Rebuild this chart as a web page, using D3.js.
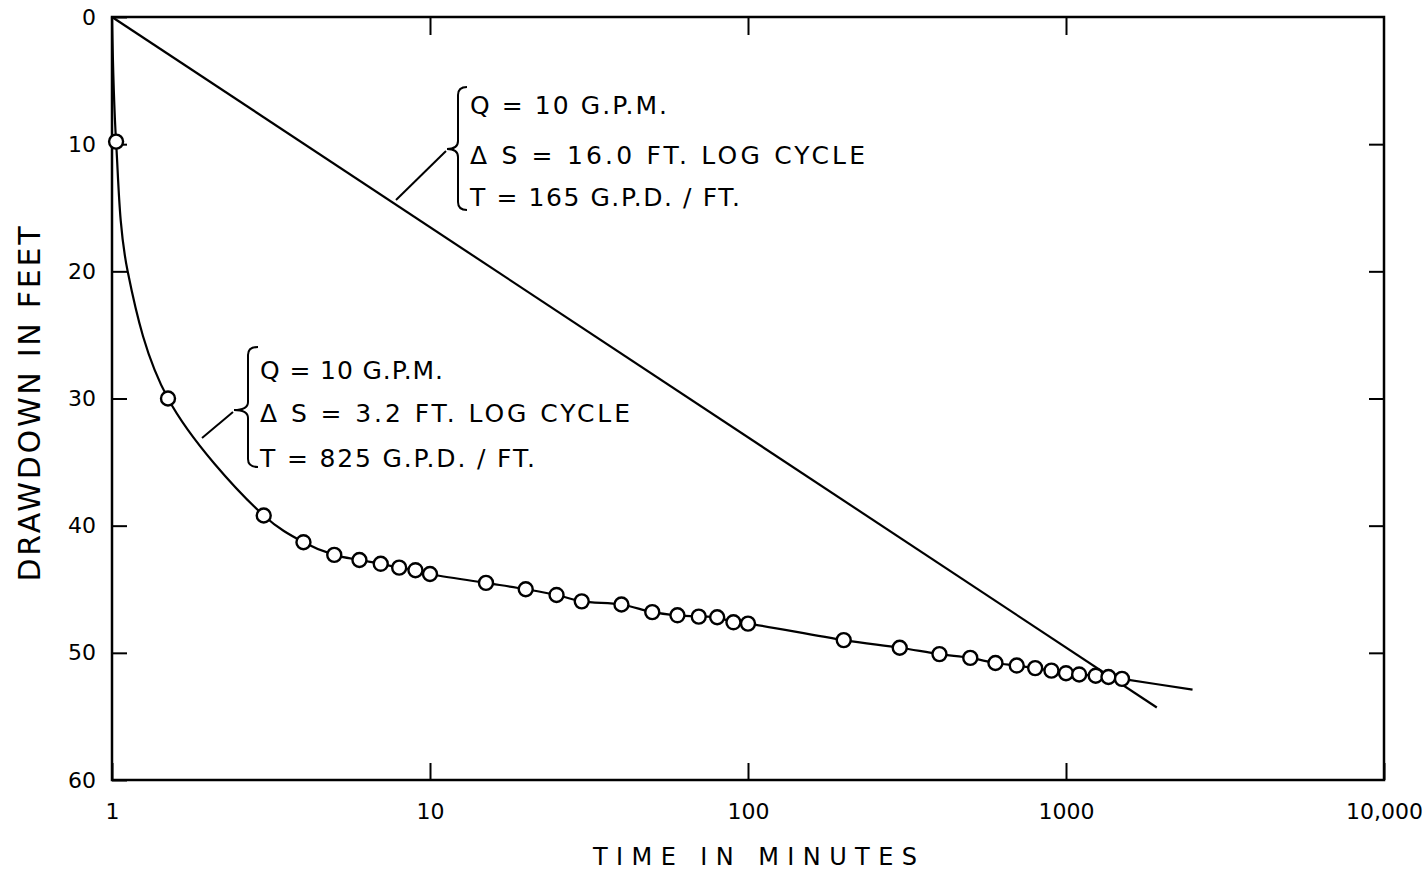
<!DOCTYPE html>
<html>
<head>
<meta charset="utf-8">
<title>Drawdown vs time</title>
<script src="https://d3js.org/d3.v7.min.js"></script>
<style>
body { margin: 0; background: #fff; }
text { font-family: "DejaVu Sans", sans-serif; fill: #000; }
</style>
</head>
<body>
<div id="canvas"></div>
<script>

// observed drawdown (ft) at time since pumping started (min)
var timeMin  = [1.03, 1.5, 3, 4, 5, 6, 7, 8, 9, 10, 15, 20, 25, 30, 40, 50, 60, 70, 80, 90, 100,
                200, 300, 400, 500, 600, 700, 800, 900, 1000, 1100, 1240, 1360, 1500];
var drawdown = [9.8, 30.0, 39.2, 41.3, 42.3, 42.7, 43.0, 43.3, 43.5, 43.8, 44.5, 45.0, 45.45, 45.95, 46.2, 46.8, 47.05, 47.15, 47.2, 47.6, 47.7,
                49.0, 49.6, 50.1, 50.4, 50.8, 51.0, 51.2, 51.4, 51.6, 51.7, 51.8, 51.9, 52.05];

// extra points of the hand-drawn curve (start, knee, tail)
var curveExtraTime     = [1, 1.12, 2500];
var curveExtraDrawdown = [0, 20, 52.9];

// straight-line fit
var fitTime     = [1, 1930];
var fitDrawdown = [0, 54.3];

var xTicks      = [1, 10, 100, 1000, 10000];
var xTickLabels = ["1", "10", "100", "1000", "10,000"];
var yTicks      = [0, 10, 20, 30, 40, 50, 60];

var upperNote = ["Q = 10  G.P.M.", "\u0394 S  =  16.0 FT.  LOG  CYCLE", "T = 165  G.P.D. / FT."];
var lowerNote = ["Q = 10  G.P.M.", "\u0394 S  = 3.2  FT. LOG  CYCLE", "T = 825 G.P.D. / FT."];

var W = 1424, H = 874;

var svg = d3.select("#canvas").append("svg")
            .attr("width", W)
            .attr("height", H);

var x = d3.scaleLog().domain([1, 10000]).range([112, 1384]);
var y = d3.scaleLinear().domain([0, 60]).range([17, 780]);

// frame
svg.append("rect")
   .attr("x", x(1)).attr("y", y(0))
   .attr("width", x(10000) - x(1)).attr("height", y(60) - y(0))
   .attr("fill", "none").attr("stroke", "#000").attr("stroke-width", 2.5);

// axes, ticks pointing inward
svg.append("g")
   .attr("transform", "translate(0," + y(60) + ")")
   .call(d3.axisBottom(x).tickValues(xTicks).tickSizeInner(-17).tickSizeOuter(0).tickPadding(23)
           .tickFormat(function(d, i) { return xTickLabels[i]; }));

svg.append("g")
   .attr("transform", "translate(0," + y(0) + ")")
   .call(d3.axisTop(x).tickValues([10, 100, 1000]).tickSizeInner(-18).tickSizeOuter(0).tickFormat(""));

svg.append("g")
   .attr("transform", "translate(" + x(1) + ",0)")
   .call(d3.axisLeft(y).tickValues(yTicks).tickSizeInner(-15).tickSizeOuter(0).tickPadding(16));

svg.append("g")
   .attr("transform", "translate(" + x(10000) + ",0)")
   .call(d3.axisRight(y).tickValues([10, 20, 30, 40, 50]).tickSizeInner(-15).tickSizeOuter(0).tickFormat(""));

svg.selectAll(".domain").remove();
svg.selectAll(".tick line").attr("stroke", "#000").attr("stroke-width", 2);
svg.selectAll(".tick text").style("font-size", "22px").attr("fill", "#000");

// axis titles
svg.append("text")
   .attr("x", 755).attr("y", 865)
   .attr("text-anchor", "middle")
   .attr("textLength", 324).attr("lengthAdjust", "spacing")
   .style("font-size", "24px")
   .text("TIME IN MINUTES");

svg.append("text")
   .attr("transform", "translate(40,404) rotate(-90)")
   .attr("text-anchor", "middle")
   .attr("textLength", 355).attr("lengthAdjust", "spacing")
   .style("font-size", "30px")
   .text("DRAWDOWN IN FEET");

// straight line fit
var fitPts = fitTime.map(function(t, i) { return [t, fitDrawdown[i]]; });
svg.append("path")
   .datum(fitPts)
   .attr("fill", "none").attr("stroke", "#000").attr("stroke-width", 2.2)
   .attr("d", d3.line().x(function(d) { return x(d[0]); }).y(function(d) { return y(d[1]); }));

// drawn curve through the observations
var obs = timeMin.map(function(t, i) { return [t, drawdown[i]]; });
var curvePts = obs.concat(curveExtraTime.map(function(t, i) { return [t, curveExtraDrawdown[i]]; }))
                  .sort(function(a, b) { return a[0] - b[0]; });
svg.append("path")
   .datum(curvePts)
   .attr("fill", "none").attr("stroke", "#000").attr("stroke-width", 2.2)
   .attr("d", d3.line().curve(d3.curveCatmullRom.alpha(0.5))
                .x(function(d) { return x(d[0]); }).y(function(d) { return y(d[1]); }));

svg.append("g").selectAll("circle")
   .data(obs)
   .enter()
   .append("circle")
   .attr("cx", function(d) { return x(d[0]); })
   .attr("cy", function(d) { return y(d[1]); })
   .attr("r", 7)
   .attr("fill", "#fff").attr("stroke", "#000").attr("stroke-width", 2.4);

// annotations with braces
function note(lines, tx, centers, widths, brace, leader) {
   var g = svg.append("g");
   g.selectAll("text")
    .data(lines)
    .enter()
    .append("text")
    .attr("x", tx)
    .attr("y", function(d, i) { return centers[i] + 9; })
    .attr("textLength", function(d, i) { return widths[i]; })
    .attr("lengthAdjust", "spacing")
    .style("font-size", "25px")
    .text(function(d) { return d; });

   var bx = brace.x, tip = brace.tip, y0 = brace.y0, y1 = brace.y1, ym = brace.ym, e = brace.end;
   var p = "M" + e + "," + y0 +
           " Q" + bx + "," + y0 + " " + bx + "," + (y0 + 8) +
           " L" + bx + "," + (ym - 8) +
           " Q" + bx + "," + ym + " " + tip + "," + ym +
           " Q" + bx + "," + ym + " " + bx + "," + (ym + 8) +
           " L" + bx + "," + (y1 - 8) +
           " Q" + bx + "," + y1 + " " + e + "," + y1;
   g.append("path").attr("d", p)
    .attr("fill", "none").attr("stroke", "#000").attr("stroke-width", 2);
   g.append("line")
    .attr("x1", leader[0]).attr("y1", leader[1]).attr("x2", leader[2]).attr("y2", leader[3])
    .attr("stroke", "#000").attr("stroke-width", 2);
}

note(upperNote, 470, [105, 155, 197], [197, 395, 270],
     { x: 458, tip: 447, end: 467, y0: 87, ym: 149, y1: 210 }, [396, 200, 446, 151]);
note(lowerNote, 260, [370, 413, 458], [183, 370, 275],
     { x: 248, tip: 234, end: 258, y0: 347, ym: 410, y1: 467 }, [202, 438, 233, 412]);

</script>
</body>
</html>
